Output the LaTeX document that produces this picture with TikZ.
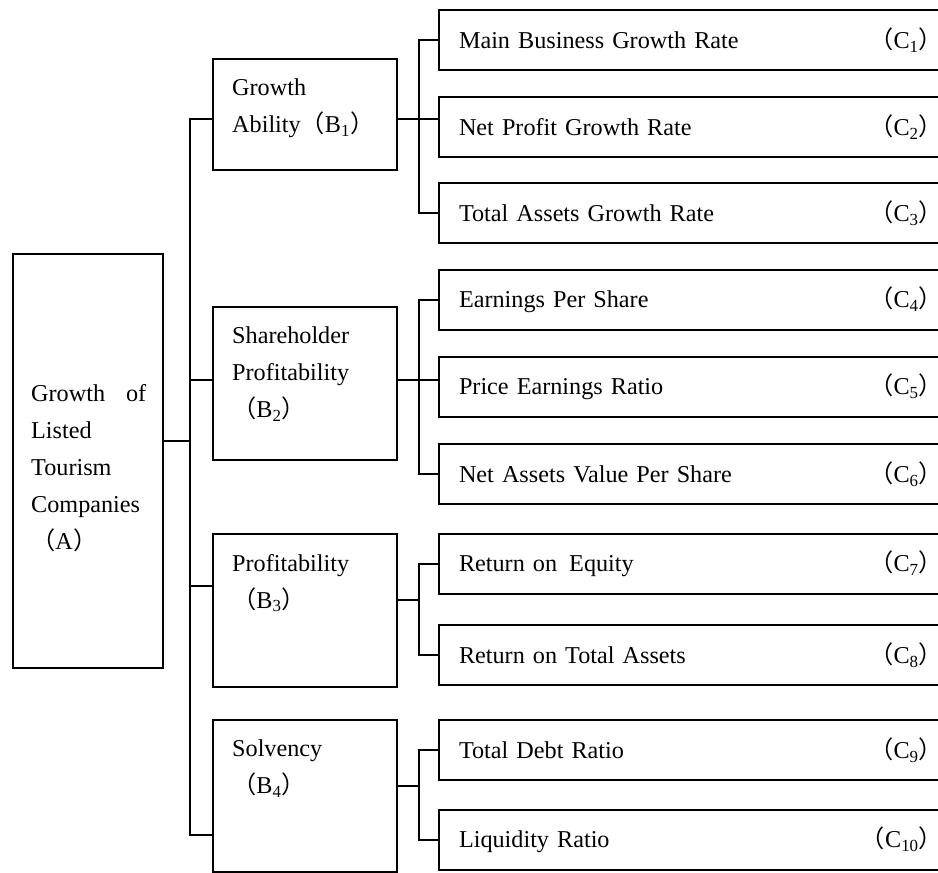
\documentclass[tikz,border=0pt]{standalone}
\usepackage{fontspec}
\setmainfont{Liberation Serif}
\newfontfamily\cjk{Noto Sans CJK SC}
\usetikzlibrary{positioning}
\newcommand{\pidx}[2]{{\cjk （}#1\textsubscript{#2}{\cjk\makebox[0.55em][l]{）}}}

\begin{document}
\begin{tikzpicture}[x=1pt, y=-1pt,
    box/.style={draw, line width=2.6pt, inner sep=0pt, outer sep=0pt, anchor=north west},
    btext/.style={anchor=north west, align=left, inner xsep=19pt, inner ysep=20pt, font=\fontsize{24.2}{37}\selectfont},
    atext/.style={btext, inner xsep=18pt, inner ysep=130pt},
    cbox/.style={draw, line width=2.6pt, outer sep=0pt, minimum height=60pt, text width=473pt, inner xsep=20pt, inner ysep=0pt, align=left, font=\fontsize{24.2}{37}\selectfont},
    conn/.style={line width=2pt}]
    \useasboundingbox (0,0) rectangle (938,873);

    % goal
    \node[box, minimum width=150pt, minimum height=414pt, label={[atext]north west:{\hbox to 115pt{Growth\hfill of}\\Listed\\Tourism\\Companies\\\pidx{A}{}}}] (a) at (13,254) {};

    % criteria
    \node[box, minimum width=184pt, minimum height=111pt, label={[btext]north west:{Growth\\Ability\pidx{B}{1}}}] (b1) at (213,59) {};
    \node[box, minimum width=184pt, minimum height=153pt, label={[btext]north west:{Shareholder\\Profitability\\\pidx{B}{2}}}] (b2) at (213,307) {};
    \node[box, minimum width=184pt, minimum height=153pt, label={[btext]north west:{Profitability\\\pidx{B}{3}}}] (b3) at (213,534) {};
    \node[box, minimum width=184pt, minimum height=152pt, label={[btext]north west:{Solvency\\\pidx{B}{4}}}] (b4) at (213,720) {};

    % indicators
    \node[cbox, anchor=north west] (c1) at (439,10) {Main Business Growth Rate\hfill\pidx{C}{1}};
    \node[cbox] (c2) [below=27pt of c1] {Net Profit Growth Rate\hfill\pidx{C}{2}};
    \node[cbox] (c3) [below=26pt of c2] {Total Assets Growth Rate\hfill\pidx{C}{3}};
    \node[cbox] (c4) [below=27pt of c3] {Earnings Per Share\hfill\pidx{C}{4}};
    \node[cbox] (c5) [below=27pt of c4] {Price Earnings Ratio\hfill\pidx{C}{5}};
    \node[cbox] (c6) [below=27pt of c5] {Net Assets Value Per Share\hfill\pidx{C}{6}};
    \node[cbox] (c7) [below=30pt of c6] {Return on\, Equity\hfill\pidx{C}{7}};
    \node[cbox] (c8) [below=31pt of c7] {Return on Total Assets\hfill\pidx{C}{8}};
    \node[cbox] (c9) [below=35pt of c8] {Total Debt Ratio\hfill\pidx{C}{9}};
    \node[cbox] (c10) [below=30pt of c9] {Liquidity Ratio\hfill\pidx{C}{10}};

    % joints
    \coordinate (sa) at (190,441);
    \coordinate (s1) at (190,119);
    \coordinate (s2) at (190,380);
    \coordinate (s3) at (190,586);
    \coordinate (s4) at (190,835);
    \coordinate (j1) at (419,119);
    \coordinate (j2) at (419,380);
    \coordinate (j3) at (419,600);
    \coordinate (j4) at (419,786);

    \draw[conn] (a.east |- sa) -- (sa);
    \draw[conn] (b1.west |- s1) -| (s4) -- (b4.west |- s4);
    \draw[conn] (s2) -- (b2.west |- s2);
    \draw[conn] (s3) -- (b3.west |- s3);

    \draw[conn] (b1.east |- j1) -- (c2.west |- j1);
    \draw[conn] (c1.west) -| (j1) |- (c3.west);
    \draw[conn] (b2.east |- j2) -- (c5.west |- j2);
    \draw[conn] (c4.west) -| (j2) |- (c6.west);
    \draw[conn] (b3.east |- j3) -- (j3);
    \draw[conn] (c7.west) -| (j3) |- (c8.west);
    \draw[conn] (b4.east |- j4) -- (j4);
    \draw[conn] (c9.west) -| (j4) |- (c10.west);
\end{tikzpicture}
\end{document}
